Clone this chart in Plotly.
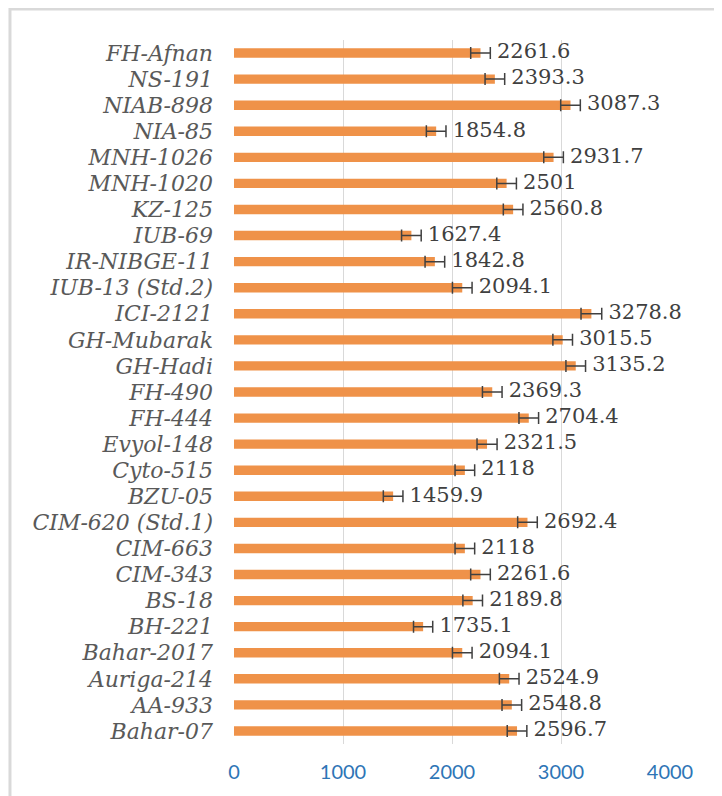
import plotly.graph_objects as go

# varieties, listed bottom to top as plotly draws them
variedades = ['Bahar-07', 'AA-933', 'Auriga-214', 'Bahar-2017', 'BH-221', 'BS-18',
              'CIM-343', 'CIM-663', 'CIM-620 (Std.1)', 'BZU-05', 'Cyto-515', 'Evyol-148',
              'FH-444', 'FH-490', 'GH-Hadi', 'GH-Mubarak', 'ICI-2121', 'IUB-13 (Std.2)',
              'IR-NIBGE-11', 'IUB-69', 'KZ-125', 'MNH-1020', 'MNH-1026', 'NIA-85',
              'NIAB-898', 'NS-191', 'FH-Afnan']
valores = [2596.7, 2548.8, 2524.9, 2094.1, 1735.1, 2189.8, 2261.6, 2118, 2692.4,
           1459.9, 2118, 2321.5, 2704.4, 2369.3, 3135.2, 3015.5, 3278.8, 2094.1,
           1842.8, 1627.4, 2560.8, 2501, 2931.7, 1854.8, 3087.3, 2393.3, 2261.6]
erros = [90, 90, 90, 90, 88, 90, 90, 90, 90, 90, 90, 92, 90, 90, 90, 90, 95, 90,
         90, 90, 90, 90, 90, 90, 90, 90, 90]
ticks_x = [0, 1000, 2000, 3000, 4000]

LARANJA = '#EF9249'
CINZA = '#404040'
SERIFA = 'DejaVu Serif'

fig = go.Figure()
fig.add_trace(go.Bar(
    y=variedades, x=valores, orientation='h', width=0.36,
    marker=dict(color=LARANJA, line=dict(width=0)),
    error_x=dict(type='data', array=erros, color=CINZA, thickness=1.5, width=6),
    hoverinfo='skip', showlegend=False,
))
# value labels right after the error bar cap
fig.add_trace(go.Scatter(
    y=variedades, x=[v + e for v, e in zip(valores, erros)],
    mode='text', text=[' ' + f'{v:g}' for v in valores],
    textposition='middle right',
    textfont=dict(family=SERIFA, size=21, color=CINZA),
    hoverinfo='skip', showlegend=False, cliponaxis=False,
))

# page body has an 8px margin, so margins are shifted by 8
fig.update_layout(
    width=722, height=796,
    margin=dict(l=226, r=60, t=32, b=60),
    paper_bgcolor='white', plot_bgcolor='white',
    xaxis=dict(range=[0, 4000], tickvals=ticks_x, showgrid=True, gridcolor='#D9D9D9',
               gridwidth=1, zeroline=False, showline=False, ticks='',
               tickfont=dict(family='Lato', size=20, color='#2E75B6'),
               ticklabelstandoff=14, automargin=False),
    yaxis=dict(showgrid=False, zeroline=False, showline=False, ticks='',
               tickfont=dict(family=SERIFA, size=22, color='#595959'),
               ticklabelstandoff=20, range=[-0.5, len(variedades) - 0.5],
               automargin=False),
    shapes=[dict(type='rect', xref='paper', yref='paper',
                 x0=-0.5138, x1=1.3, y0=-0.3, y1=1.044,
                 line=dict(color='#D9D9D9', width=3), layer='below')],
)
# italic category labels
fig.update_yaxes(ticktext=['<i>' + v + '</i>' for v in variedades], tickvals=variedades)

fig.write_html("out.html")
